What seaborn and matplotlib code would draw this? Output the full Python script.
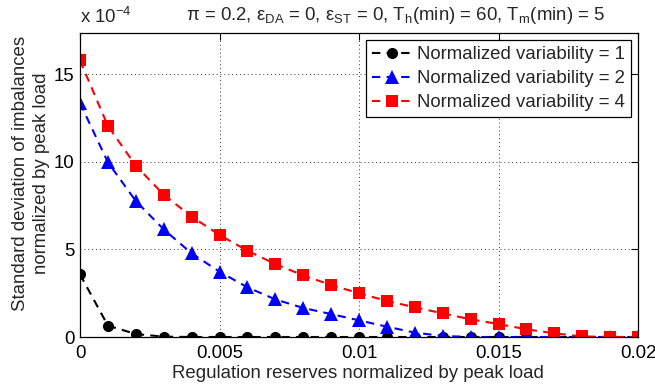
import numpy as np
import pandas as pd
import matplotlib
matplotlib.use("Agg")
import matplotlib.pyplot as plt
import seaborn as sns

# Regulation reserves (normalized by peak load)
reserves = [0.000, 0.001, 0.002, 0.003, 0.004, 0.005, 0.006, 0.007, 0.008, 0.009, 0.010,
            0.011, 0.012, 0.013, 0.014, 0.015, 0.016, 0.017, 0.018, 0.019, 0.020]

# Std. deviation of imbalances, in units of 1e-4 of peak load
var1 = [3.58, 0.65, 0.17, 0.02, 0.0, 0.0, 0.0, 0.0, 0.0, 0.0, 0.0,
        0.0, 0.0, 0.0, 0.0, 0.0, 0.0, 0.0, 0.0, 0.0, 0.0]
var2 = [13.37, 9.98, 7.77, 6.15, 4.78, 3.73, 2.84, 2.15, 1.66, 1.31, 0.95,
        0.59, 0.25, 0.06, 0.0, 0.0, 0.0, 0.0, 0.0, 0.0, 0.0]
var4 = [15.80, 12.06, 9.79, 8.13, 6.88, 5.83, 4.93, 4.17, 3.52, 2.97, 2.50,
        2.06, 1.70, 1.35, 1.01, 0.74, 0.44, 0.21, 0.03, 0.0, 0.0]

series_names = ["Normalized variability = 1",
                "Normalized variability = 2",
                "Normalized variability = 4"]
series_values = [var1, var2, var4]
colors = ["black", "blue", "red"]
marker_shapes = ["o", "^", "s"]

df = pd.concat([pd.DataFrame({"x": reserves, "y": v, "series": n})
                for n, v in zip(series_names, series_values)], ignore_index=True)

sns.set_style("white")
plt.rcParams["font.family"] = ["Liberation Sans", "DejaVu Sans"]
plt.rcParams["mathtext.default"] = "regular"

FS = 13.4
W, H = 655, 390

fig = plt.figure(figsize=(W / 100, H / 100), dpi=100)
ax = fig.add_axes([80 / W, 1 - 337 / H, (638 - 80) / W, (337 - 33) / H])

sns.lineplot(data=df, x="x", y="y", hue="series", style="series",
             palette=dict(zip(series_names, colors)),
             markers=dict(zip(series_names, marker_shapes)),
             dashes={n: (4, 3) for n in series_names},
             linewidth=1.5, markersize=8, markeredgewidth=0,
             ax=ax, legend=True)

# slightly larger triangles, as their visual area is smaller
for line in ax.lines:
    if line.get_marker() == "^":
        line.set_markersize(9.5)

ax.set_xlim(0, 0.02)
ax.set_ylim(0, 17.37)
ax.set_xticks([0, 0.005, 0.01, 0.015, 0.02])
ax.set_xticklabels(["0", "0.005", "0.01", "0.015", "0.02"])
ax.set_yticks([0, 5, 10, 15])
ax.set_yticklabels(["0", "5", "10", "15"])
ax.grid(True, color="#333333", linestyle=(0, (1, 3)), linewidth=0.7)
ax.tick_params(direction="in", top=True, right=True, length=5, width=0.8,
               labelsize=FS, colors="black")
ax.tick_params(axis="x", pad=6)
ax.tick_params(axis="y", pad=4)
for s in ax.spines.values():
    s.set_visible(True)
    s.set_color("black")
    s.set_linewidth(0.9)

ax.set_xlabel("")
ax.set_ylabel("")
fig.text(358 / W, 1 - 373 / H, "Regulation reserves normalized by peak load",
         fontsize=FS, ha="center", va="center")
fig.text(31 / W, 1 - 173 / H, "Standard deviation of imbalances\nnormalized by peak load",
         fontsize=FS, ha="center", va="center", rotation=90, linespacing=1.3,
         multialignment="center")

leg = ax.legend(loc="upper right", fontsize=FS, frameon=True, fancybox=False,
                edgecolor="black", framealpha=1, borderpad=0.3, labelspacing=0.38,
                handlelength=2.2, handletextpad=0.25, borderaxespad=0.4)
leg.get_frame().set_linewidth(0.9)

fig.text(80 / W, 1 - 17 / H, r"x 10$^{-4}$", fontsize=FS, va="center", ha="left")
fig.text(396 / W, 1 - 16 / H,
         r"π = 0.2, ε$_{DA}$ = 0, ε$_{ST}$ = 0, T$_{h}$(min) = 60, T$_{m}$(min) = 5",
         fontsize=FS, va="center", ha="center")

fig.savefig("out.png", dpi=100)
